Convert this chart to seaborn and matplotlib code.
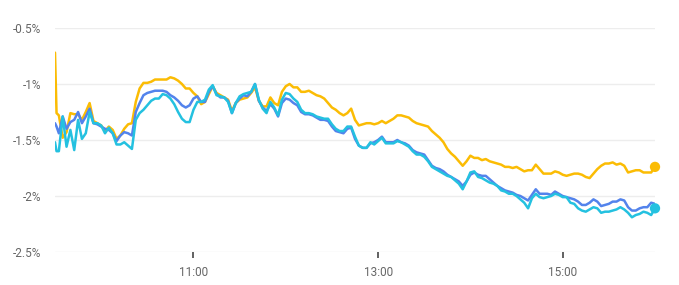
import matplotlib
matplotlib.use("Agg")
import matplotlib.pyplot as plt
import seaborn as sns
import pandas as pd

# time stamps (minutes since midnight): 9:30, 9:31, then every 2.5 minutes to 16:00
times = [570, 571] + [570 + 2.5 * k for k in range(1, 157)]

gold = [-0.72, -1.26, -1.28, -1.48, -1.43, -1.26, -1.27, -1.27, -1.32, -1.25,
        -1.17, -1.33, -1.35, -1.37, -1.42, -1.38, -1.41, -1.49, -1.46, -1.40,
        -1.36, -1.35, -1.16, -1.04, -0.99, -0.99, -0.98, -0.96, -0.96, -0.96,
        -0.96, -0.94, -0.95, -0.97, -1.00, -1.04, -1.04, -1.08, -1.11, -1.18,
        -1.16, -1.09, -1.02, -1.08, -1.10, -1.12, -1.14, -1.24, -1.17, -1.14,
        -1.13, -1.12, -1.08, -1.03, -1.15, -1.20, -1.20, -1.12, -1.17, -1.19,
        -1.07, -1.02, -1.00, -1.03, -1.03, -1.07, -1.07, -1.06, -1.08, -1.10,
        -1.11, -1.13, -1.17, -1.21, -1.23, -1.26, -1.28, -1.26, -1.22, -1.32,
        -1.37, -1.36, -1.35, -1.35, -1.36, -1.35, -1.33, -1.35, -1.33, -1.31,
        -1.28, -1.28, -1.29, -1.30, -1.33, -1.35, -1.36, -1.37, -1.38, -1.42,
        -1.45, -1.48, -1.52, -1.58, -1.62, -1.65, -1.69, -1.73, -1.69, -1.64,
        -1.66, -1.66, -1.68, -1.67, -1.69, -1.70, -1.71, -1.72, -1.74, -1.74,
        -1.75, -1.74, -1.76, -1.78, -1.77, -1.77, -1.72, -1.76, -1.80, -1.80,
        -1.80, -1.78, -1.79, -1.81, -1.82, -1.81, -1.80, -1.80, -1.81, -1.83,
        -1.84, -1.80, -1.76, -1.73, -1.71, -1.71, -1.70, -1.72, -1.71, -1.73,
        -1.79, -1.78, -1.77, -1.77, -1.79, -1.79, -1.79, -1.74]

blue = [-1.35, -1.38, -1.44, -1.29, -1.40, -1.34, -1.32, -1.25, -1.35, -1.29,
        -1.22, -1.35, -1.36, -1.38, -1.40, -1.41, -1.44, -1.51, -1.46, -1.43,
        -1.44, -1.46, -1.25, -1.17, -1.10, -1.08, -1.07, -1.06, -1.06, -1.06,
        -1.07, -1.10, -1.12, -1.15, -1.19, -1.21, -1.19, -1.13, -1.11, -1.16,
        -1.16, -1.07, -1.02, -1.09, -1.12, -1.12, -1.15, -1.26, -1.17, -1.13,
        -1.10, -1.11, -1.07, -1.00, -1.15, -1.21, -1.24, -1.18, -1.22, -1.29,
        -1.17, -1.13, -1.14, -1.17, -1.19, -1.25, -1.27, -1.27, -1.28, -1.30,
        -1.32, -1.32, -1.33, -1.38, -1.42, -1.43, -1.44, -1.40, -1.39, -1.49,
        -1.55, -1.57, -1.57, -1.53, -1.52, -1.50, -1.47, -1.52, -1.52, -1.52,
        -1.50, -1.52, -1.53, -1.55, -1.59, -1.61, -1.62, -1.63, -1.68, -1.73,
        -1.75, -1.76, -1.78, -1.81, -1.83, -1.85, -1.87, -1.91, -1.87, -1.81,
        -1.79, -1.81, -1.82, -1.82, -1.85, -1.88, -1.91, -1.93, -1.95, -1.96,
        -1.97, -1.99, -2.00, -2.02, -2.04, -1.99, -1.94, -1.98, -1.98, -1.98,
        -1.99, -1.96, -1.98, -2.00, -2.01, -2.02, -2.03, -2.05, -2.08, -2.08,
        -2.06, -2.03, -2.05, -2.09, -2.08, -2.07, -2.05, -2.05, -2.03, -2.04,
        -2.10, -2.13, -2.13, -2.11, -2.10, -2.10, -2.06, -2.07]

cyan = [-1.52, -1.60, -1.60, -1.29, -1.56, -1.41, -1.59, -1.32, -1.49, -1.44,
        -1.25, -1.35, -1.35, -1.37, -1.44, -1.39, -1.44, -1.54, -1.54, -1.52,
        -1.55, -1.58, -1.32, -1.26, -1.23, -1.19, -1.15, -1.13, -1.13, -1.09,
        -1.10, -1.13, -1.18, -1.25, -1.31, -1.34, -1.34, -1.23, -1.16, -1.16,
        -1.14, -1.05, -1.01, -1.10, -1.11, -1.12, -1.16, -1.26, -1.17, -1.11,
        -1.09, -1.08, -1.07, -1.00, -1.14, -1.22, -1.26, -1.16, -1.21, -1.28,
        -1.14, -1.08, -1.09, -1.13, -1.16, -1.23, -1.26, -1.26, -1.27, -1.29,
        -1.30, -1.31, -1.31, -1.36, -1.40, -1.42, -1.42, -1.38, -1.38, -1.47,
        -1.55, -1.57, -1.57, -1.52, -1.54, -1.51, -1.48, -1.53, -1.53, -1.53,
        -1.51, -1.52, -1.54, -1.56, -1.60, -1.63, -1.63, -1.65, -1.69, -1.74,
        -1.76, -1.78, -1.80, -1.82, -1.83, -1.86, -1.89, -1.94, -1.87, -1.79,
        -1.78, -1.83, -1.84, -1.86, -1.88, -1.89, -1.91, -1.95, -1.96, -1.98,
        -1.98, -2.00, -2.03, -2.06, -2.11, -2.02, -1.98, -2.01, -2.02, -2.01,
        -2.00, -1.98, -1.99, -2.01, -2.01, -2.06, -2.07, -2.11, -2.13, -2.14,
        -2.12, -2.10, -2.11, -2.15, -2.14, -2.14, -2.13, -2.12, -2.10, -2.12,
        -2.15, -2.19, -2.17, -2.16, -2.14, -2.15, -2.17, -2.11]

series_names = ["gold", "blue", "cyan"]
dot_series = ["gold", "cyan"]
colors = {"gold": "#FBBC04", "blue": "#5383EC", "cyan": "#24C1E0"}

xticks = [660, 780, 900]
xtick_labels = ["11:00", "13:00", "15:00"]
yticks = [-2.5, -2.0, -1.5, -1.0, -0.5]
ytick_labels = ["-2.5%", "-2%", "-1.5%", "-1%", "-0.5%"]

n = len(times)
assert len(gold) == n and len(blue) == n and len(cyan) == n

df = pd.DataFrame({
    "time": times * 3,
    "value": gold + blue + cyan,
    "series": ["gold"] * n + ["blue"] * n + ["cyan"] * n,
})
last = df.groupby("series", sort=False).tail(1)
last = last[last["series"].isin(dot_series)]

sns.set_theme(style="white")
plt.rcParams["font.family"] = ["Roboto", "DejaVu Sans"]

fig = plt.figure(figsize=(6.79, 2.85), dpi=100)
ax = fig.add_axes([55 / 679, 33 / 285, 600 / 679, 224 / 285])

sns.lineplot(data=df, x="time", y="value", hue="series", hue_order=series_names,
             palette=colors, linewidth=1.8, legend=False, ax=ax, zorder=3)
sns.scatterplot(data=last, x="time", y="value", hue="series", hue_order=dot_series,
                palette=colors, s=55, linewidth=0, legend=False, ax=ax,
                zorder=4, clip_on=False)

ax.set_xlim(570, 960)
ax.set_ylim(-2.5, -0.5)
ax.set_xticks(xticks)
ax.set_xticklabels(xtick_labels)
ax.set_yticks(yticks)
ax.set_yticklabels(ytick_labels)
ax.set_xlabel("")
ax.set_ylabel("")
for s in ax.spines.values():
    s.set_visible(False)
ax.grid(axis="y", color="#EDEDED", linewidth=1)
ax.grid(axis="x", visible=False)
ax.set_axisbelow(True)
ax.tick_params(axis="x", length=4, width=1.3, color="#555555", labelcolor="#666666",
               labelsize=8.5, pad=6, direction="out", bottom=True)
ax.tick_params(axis="y", length=0, labelcolor="#666666", labelsize=8.5, pad=10)

fig.savefig("out.png", dpi=100, facecolor="white")
